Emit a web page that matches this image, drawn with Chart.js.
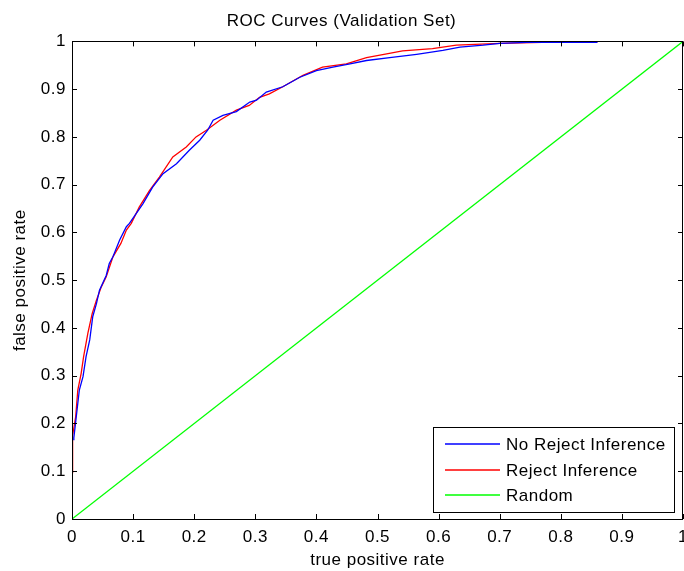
<!DOCTYPE html>
<html>
<head>
<meta charset="utf-8">
<script src="https://cdn.jsdelivr.net/npm/chart.js@4"></script>
<style>
  html, body { margin: 0; padding: 0; background: #fff; }
  #wrap { width: 684px; height: 571px; }
</style>
</head>
<body>
<div id="wrap"><canvas id="rocChart" width="684" height="571"></canvas></div>
<script>
// ROC curve data
const noRejectX = [0.003, 0.003, 0.007, 0.012, 0.018, 0.023, 0.029, 0.034, 0.040, 0.045, 0.056, 0.061, 0.067, 0.078, 0.089, 0.094, 0.116, 0.132, 0.149, 0.171, 0.192, 0.209, 0.222, 0.231, 0.247, 0.269, 0.291, 0.302, 0.318, 0.345, 0.373, 0.400, 0.427, 0.455, 0.482, 0.520, 0.564, 0.607, 0.635, 0.673, 0.700, 0.744, 0.860];
const noRejectY = [0.165, 0.170, 0.214, 0.270, 0.298, 0.340, 0.375, 0.424, 0.451, 0.479, 0.510, 0.535, 0.549, 0.584, 0.612, 0.619, 0.660, 0.695, 0.723, 0.744, 0.772, 0.793, 0.814, 0.835, 0.845, 0.853, 0.873, 0.877, 0.894, 0.905, 0.925, 0.939, 0.946, 0.953, 0.960, 0.966, 0.973, 0.981, 0.988, 0.992, 0.996, 0.998, 0.998];

const rejectX = [0.001, 0.001, 0.006, 0.0095, 0.015, 0.019, 0.026, 0.033, 0.040, 0.048, 0.056, 0.067, 0.080, 0.089, 0.097, 0.110, 0.127, 0.143, 0.165, 0.187, 0.203, 0.220, 0.242, 0.269, 0.290, 0.307, 0.323, 0.345, 0.378, 0.410, 0.449, 0.482, 0.515, 0.541, 0.590, 0.629, 0.700, 0.770, 0.860];
const rejectY = [0.096, 0.175, 0.214, 0.270, 0.305, 0.340, 0.389, 0.430, 0.458, 0.486, 0.507, 0.549, 0.577, 0.605, 0.619, 0.653, 0.688, 0.716, 0.758, 0.779, 0.800, 0.814, 0.835, 0.856, 0.866, 0.883, 0.890, 0.905, 0.929, 0.946, 0.953, 0.966, 0.974, 0.980, 0.985, 0.992, 0.996, 0.998, 0.999];

const randomX = [0, 1];
const randomY = [0, 1];

const tickValues = [0, 0.1, 0.2, 0.3, 0.4, 0.5, 0.6, 0.7, 0.8, 0.9, 1];

function toPoints(xs, ys) {
  return xs.map((x, i) => ({ x: x, y: ys[i] }));
}

const FONT = "'Liberation Sans', Arial, sans-serif";

// the matlab text is a bit looser than Liberation Sans
const spacing = {
  id: "spacing",
  beforeLayout(chart) { chart.ctx.letterSpacing = "0.5px"; },
  beforeDraw(chart) { chart.ctx.letterSpacing = "0.5px"; },
};

// box around the axes with inward ticks on all four sides
const boxTicks = {
  id: "boxTicks",
  afterDatasetsDraw(chart) {
    const { ctx, chartArea: a, scales } = chart;
    const len = 5;
    ctx.save();
    ctx.strokeStyle = "#000";
    ctx.lineWidth = 1;
    ctx.beginPath();
    tickValues.forEach((v) => {
      const x = Math.round(scales.x.getPixelForValue(v)) + 0.5;
      ctx.moveTo(x, a.bottom);
      ctx.lineTo(x, a.bottom - len);
      ctx.moveTo(x, a.top);
      ctx.lineTo(x, a.top + len);
      const y = Math.round(scales.y.getPixelForValue(v)) + 0.5;
      ctx.moveTo(a.left, y);
      ctx.lineTo(a.left + len, y);
      ctx.moveTo(a.right, y);
      ctx.lineTo(a.right - len, y);
    });
    ctx.stroke();
    ctx.strokeRect(Math.round(a.left) + 0.5, Math.round(a.top) + 0.5,
      Math.round(a.right - a.left) - 1, Math.round(a.bottom - a.top));
    ctx.restore();
  },
};

// legend box in the lower right corner
const boxLegend = {
  id: "boxLegend",
  afterDraw(chart) {
    const { ctx, chartArea: a } = chart;
    const w = 241, h = 85;
    const left = Math.round(a.right - 9 - w);
    const top = Math.round(a.bottom - 7 - h);
    ctx.save();
    ctx.fillStyle = "#fff";
    ctx.fillRect(left, top, w, h);
    ctx.strokeStyle = "#000";
    ctx.lineWidth = 1;
    ctx.strokeRect(left + 0.5, top + 0.5, w, h);
    ctx.font = "17px " + FONT;
    ctx.textBaseline = "middle";
    chart.data.datasets.forEach((ds, i) => {
      const y = Math.round(top + 17 + i * 25.5);
      ctx.strokeStyle = ds.borderColor;
      ctx.lineWidth = 1.5;
      ctx.beginPath();
      ctx.moveTo(left + 12, y);
      ctx.lineTo(left + 67, y);
      ctx.stroke();
      ctx.fillStyle = "#000";
      ctx.fillText(ds.label, left + 73, y + 1);
    });
    ctx.restore();
  },
};

new Chart(document.getElementById("rocChart"), {
  type: "scatter",
  data: {
    datasets: [
      {
        label: "No Reject Inference",
        data: toPoints(noRejectX, noRejectY),
        borderColor: "#0000ff",
        showLine: true,
        pointRadius: 0,
        borderWidth: 1.3,
      },
      {
        label: "Reject Inference",
        data: toPoints(rejectX, rejectY),
        borderColor: "#ff0000",
        showLine: true,
        pointRadius: 0,
        borderWidth: 1.3,
      },
      {
        label: "Random",
        data: toPoints(randomX, randomY),
        borderColor: "#00ff00",
        showLine: true,
        pointRadius: 0,
        borderWidth: 1.3,
      },
    ],
  },
  options: {
    responsive: false,
    animation: false,
    layout: { padding: { left: 0, right: 1, top: 0, bottom: 0 } },
    plugins: {
      legend: { display: false },
      tooltip: { enabled: false },
      title: {
        display: true,
        text: "ROC Curves (Validation Set)",
        color: "#000",
        font: { family: FONT, size: 17, weight: "normal" },
        padding: { top: 11, bottom: 10 },
      },
    },
    scales: {
      x: {
        type: "linear",
        min: 0,
        max: 1,
        afterBuildTicks: (s) => { s.ticks = tickValues.map((v) => ({ value: v })); },
        afterFit: (s) => {
          s.height = 52;
          s.paddingLeft = 0;
          s.paddingRight = 0;
        },
        ticks: {
          color: "#000",
          padding: 8,
          maxRotation: 0,
          font: { family: FONT, size: 17 },
          callback: (v) => String(+v.toFixed(1)),
        },
        grid: { display: false, drawTicks: false },
        border: { display: false },
        title: {
          display: true,
          text: "true positive rate",
          color: "#000",
          font: { family: FONT, size: 17 },
          padding: { top: 0, bottom: 0 },
        },
      },
      y: {
        type: "linear",
        min: 0,
        max: 1,
        afterBuildTicks: (s) => { s.ticks = tickValues.map((v) => ({ value: v })); },
        afterFit: (s) => {
          s.width = 72;
          s.paddingTop = 0;
          s.paddingBottom = 0;
        },
        ticks: {
          color: "#000",
          padding: 6,
          font: { family: FONT, size: 17 },
          callback: (v) => String(+v.toFixed(1)),
        },
        grid: { display: false, drawTicks: false },
        border: { display: false },
        title: {
          display: true,
          text: "false positive rate",
          color: "#000",
          font: { family: FONT, size: 17 },
          padding: { top: 10, bottom: 0 },
        },
      },
    },
  },
  plugins: [spacing, boxTicks, boxLegend],
});
</script>
</body>
</html>
